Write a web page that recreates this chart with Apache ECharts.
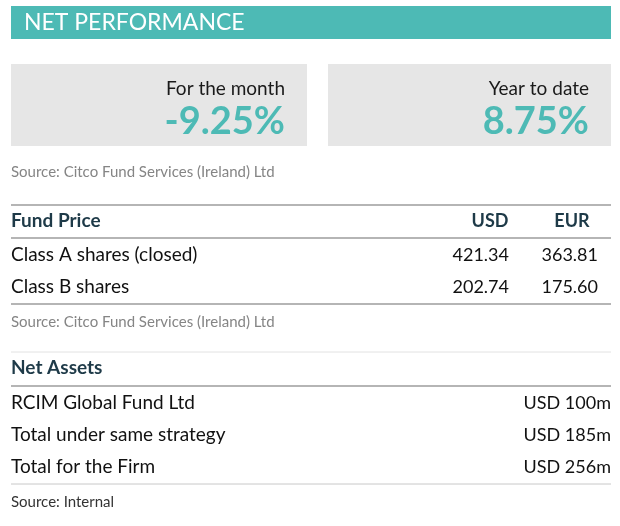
<!DOCTYPE html>
<html>
<head>
<meta charset="utf-8">
<script src="https://cdn.jsdelivr.net/npm/echarts@6/dist/echarts.min.js"></script>
<style>
  html, body { margin: 0; padding: 0; background: #fff; }
  #main { width: 620px; height: 526px; }
</style>
</head>
<body>
<div id="main"></div>
<script type="text/javascript">
// figures
var perfLabels = ['For the month', 'Year to date'];
var perfValues = [-9.25, 8.75];
var priceHeaders = ['USD', 'EUR'];
var shareClasses = ['Class A shares (closed)', 'Class B shares'];
var usdPrices = [421.34, 202.74];
var eurPrices = [363.81, 175.60];
var assetNames = ['RCIM Global Fund Ltd', 'Total under same strategy', 'Total for the Firm'];
var assetValues = [100, 185, 256];
var sourceNotes = ['Source: Citco Fund Services (Ireland) Ltd', 'Source: Citco Fund Services (Ireland) Ltd', 'Source: Internal'];

var chart = echarts.init(document.getElementById('main'));

var TEAL = '#4dbab5';
var DARK = '#1e3a48';
var FONT = 'Lato';

function txt(x, y, s, opt) {
    opt = opt || {};
    return {
        type: 'text', x: x, y: y,
        style: {
            text: s,
            fill: opt.fill || '#111',
            font: (opt.weight || 'normal') + ' ' + (opt.size || 18) + 'px ' + FONT,
            textAlign: opt.align || 'left',
            textVerticalAlign: 'middle'
        }
    };
}
function rule(y, color, w) {
    return {
        type: 'line',
        shape: { x1: 11, y1: y, x2: 611, y2: y },
        style: { stroke: color || '#b5b5b5', lineWidth: w || 2 }
    };
}

var els = [];
// header bar
els.push({ type: 'rect', shape: { x: 11, y: 6, width: 600, height: 33 }, style: { fill: TEAL } });
els.push(txt(24, 23, 'NET PERFORMANCE', { fill: '#fff', size: 23 }));

// performance boxes
var boxes = [{ x: 11, w: 296 }, { x: 328, w: 283 }];
perfLabels.forEach(function (lab, i) {
    var b = boxes[i];
    els.push({ type: 'rect', shape: { x: b.x, y: 64, width: b.w, height: 82 }, style: { fill: '#e6e6e6' } });
    els.push(txt(b.x + b.w - 22, 89, lab, { size: 19, fill: '#1a1a1a', align: 'right' }));
    var v = perfValues[i].toFixed(2) + '%';
    els.push(txt(b.x + b.w - 22, 122, v, { size: 38, weight: 'bold', fill: TEAL, align: 'right' }));
});
els.push(txt(11, 172, sourceNotes[0], { size: 15, fill: '#858585' }));

// fund price table
els.push(rule(205));
els.push(txt(11, 221, 'Fund Price', { size: 19, weight: 'bold', fill: DARK }));
els.push(txt(490, 221, priceHeaders[0], { size: 18, weight: 'bold', fill: DARK, align: 'center' }));
els.push(txt(572, 221, priceHeaders[1], { size: 18, weight: 'bold', fill: DARK, align: 'center' }));
els.push(rule(238));
shareClasses.forEach(function (c, i) {
    var y = 255 + i * 32;
    els.push(txt(11, y, c, { size: 19 }));
    els.push(txt(509, y, usdPrices[i].toFixed(2), { size: 18, align: 'right' }));
    els.push(txt(598, y, eurPrices[i].toFixed(2), { size: 18, align: 'right' }));
});
els.push(rule(304));
els.push(txt(11, 322, sourceNotes[1], { size: 15, fill: '#858585' }));

// net assets table
els.push(rule(352, '#e2e2e2', 1));
els.push(txt(11, 368, 'Net Assets', { size: 19, weight: 'bold', fill: DARK }));
els.push(rule(386));
assetNames.forEach(function (n, i) {
    var y = 403 + i * 32;
    els.push(txt(11, y, n, { size: 19 }));
    els.push(txt(611, y, 'USD ' + assetValues[i] + 'm', { size: 18, align: 'right' }));
});
els.push(rule(484, '#c8c8c8', 1));
els.push(txt(11, 502, sourceNotes[2], { size: 15, fill: '#333' }));

chart.setOption({
    animation: false,
    graphic: { elements: els }
});
</script>
</body>
</html>
